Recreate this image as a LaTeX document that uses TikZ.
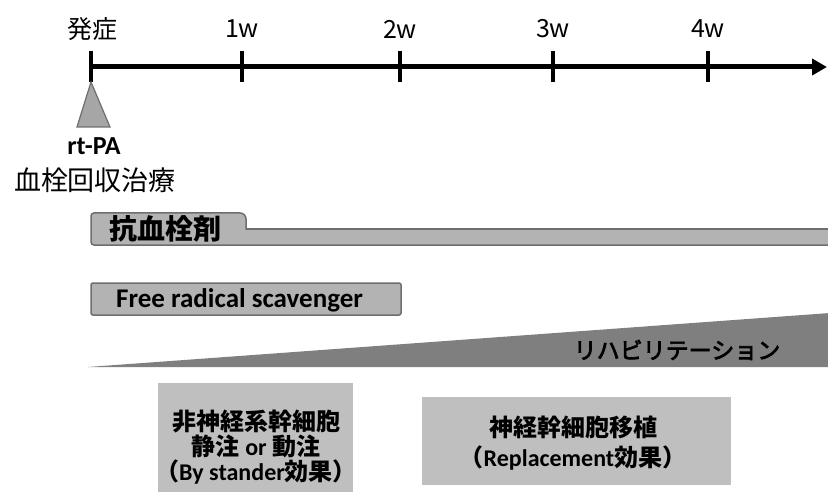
\documentclass[tikz,border=0pt]{standalone}
\usepackage{fontspec}
\setmainfont{Carlito}
\newfontfamily\jp{Noto Sans CJK JP}
\newfontfamily\jpmed{Noto Sans CJK JP}[FakeBold=3]
\usetikzlibrary{arrows.meta}
\definecolor{barfill}{HTML}{B3B3B3}
\definecolor{barline}{HTML}{6E6E6E}
\definecolor{wedge}{HTML}{7F7F7F}
\definecolor{boxfill}{HTML}{BFBFBF}
\definecolor{trifill}{HTML}{A6A6A6}
\tikzset{
  axlabel/.style={font=\jp\fontsize{25}{27}\selectfont, inner sep=0pt},
  tickmark/.style={line width=4pt},
  bar/.style={fill=barfill, draw=barline, line width=1.5pt},
  cellbox/.style={fill=boxfill, draw=none, align=center, inner sep=0pt}
}
\begin{document}
\begin{tikzpicture}[x=1pt,y=-1pt]
\useasboundingbox (0,0) rectangle (828,492);
% time axis
\coordinate (t0) at (91,67);
\coordinate (tend) at (827,67);
\draw[line width=5pt, -{Triangle[length=15pt,width=16pt]}] (t0) -- (tend);
\foreach \x in {91,242,400,553,708}{
  \draw[tickmark] (\x,51) -- (\x,82);
}
\node[axlabel] (l0) at (92,29) {発症};
\node[axlabel] (l1) at (242,29) {1w};
\node[axlabel] (l2) at (400,29) {2w};
\node[axlabel] (l3) at (553,29) {3w};
\node[axlabel] (l4) at (708,29) {4w};
% triangle
\draw[fill=trifill, draw=barline, line width=1.2pt] (91,82) -- (110,127) -- (77,127) -- cycle;
\node[font=\bfseries\fontsize{26}{28}\selectfont, inner sep=0pt] (rtpa) at (94,146) {rt-PA};
\node[font=\jp\fontsize{27}{29}\selectfont, inner sep=0pt] (thromb) at (95,180) {血栓回収治療};
% antithrombotic bar
\draw[bar] (91,242) -- (91,216) to[out=90,in=180] (94,213) -- (240,213) to[out=0,in=90] (246,219) -- (246,229) -- (832,229) -- (832,245) -- (94,245) to[out=180,in=-90] cycle;
\node[font=\jp\bfseries\fontsize{28}{30}\selectfont, anchor=west, inner sep=0pt] (anti) at (109,229) {抗血栓剤};
% free radical scavenger
\draw[bar, rounded corners=2pt] (91,283) rectangle (401,315);
\node[font=\bfseries\fontsize{27}{29}\selectfont, anchor=west, inner sep=0pt] (frs) at (116,300) {Free radical scavenger};
% rehabilitation wedge
\fill[wedge] (88,367) -- (830,313) -- (830,367) -- cycle;
\node[font=\jpmed\fontsize{23}{25}\selectfont, inner sep=0pt] (rehab) at (677,350) {リハビリテーション};
% cell therapy boxes
\fill[boxfill] (158,383) rectangle (353,494);
\node[font=\jp\bfseries\fontsize{24}{25}\selectfont, align=center, inner sep=0pt] (nonneural) at (256,447)
  {非神経系幹細胞\\静注{\rmfamily\bfseries\ or }動注\\（{\rmfamily\bfseries By stander}効果）};
\fill[boxfill] (422,397) rectangle (731,485);
\node[font=\jp\bfseries\fontsize{24}{30}\selectfont, align=center, inner sep=0pt] (neural) at (573,443)
  {神経幹細胞移植\\（{\rmfamily\bfseries Replacement}効果）};
\end{tikzpicture}
\end{document}
